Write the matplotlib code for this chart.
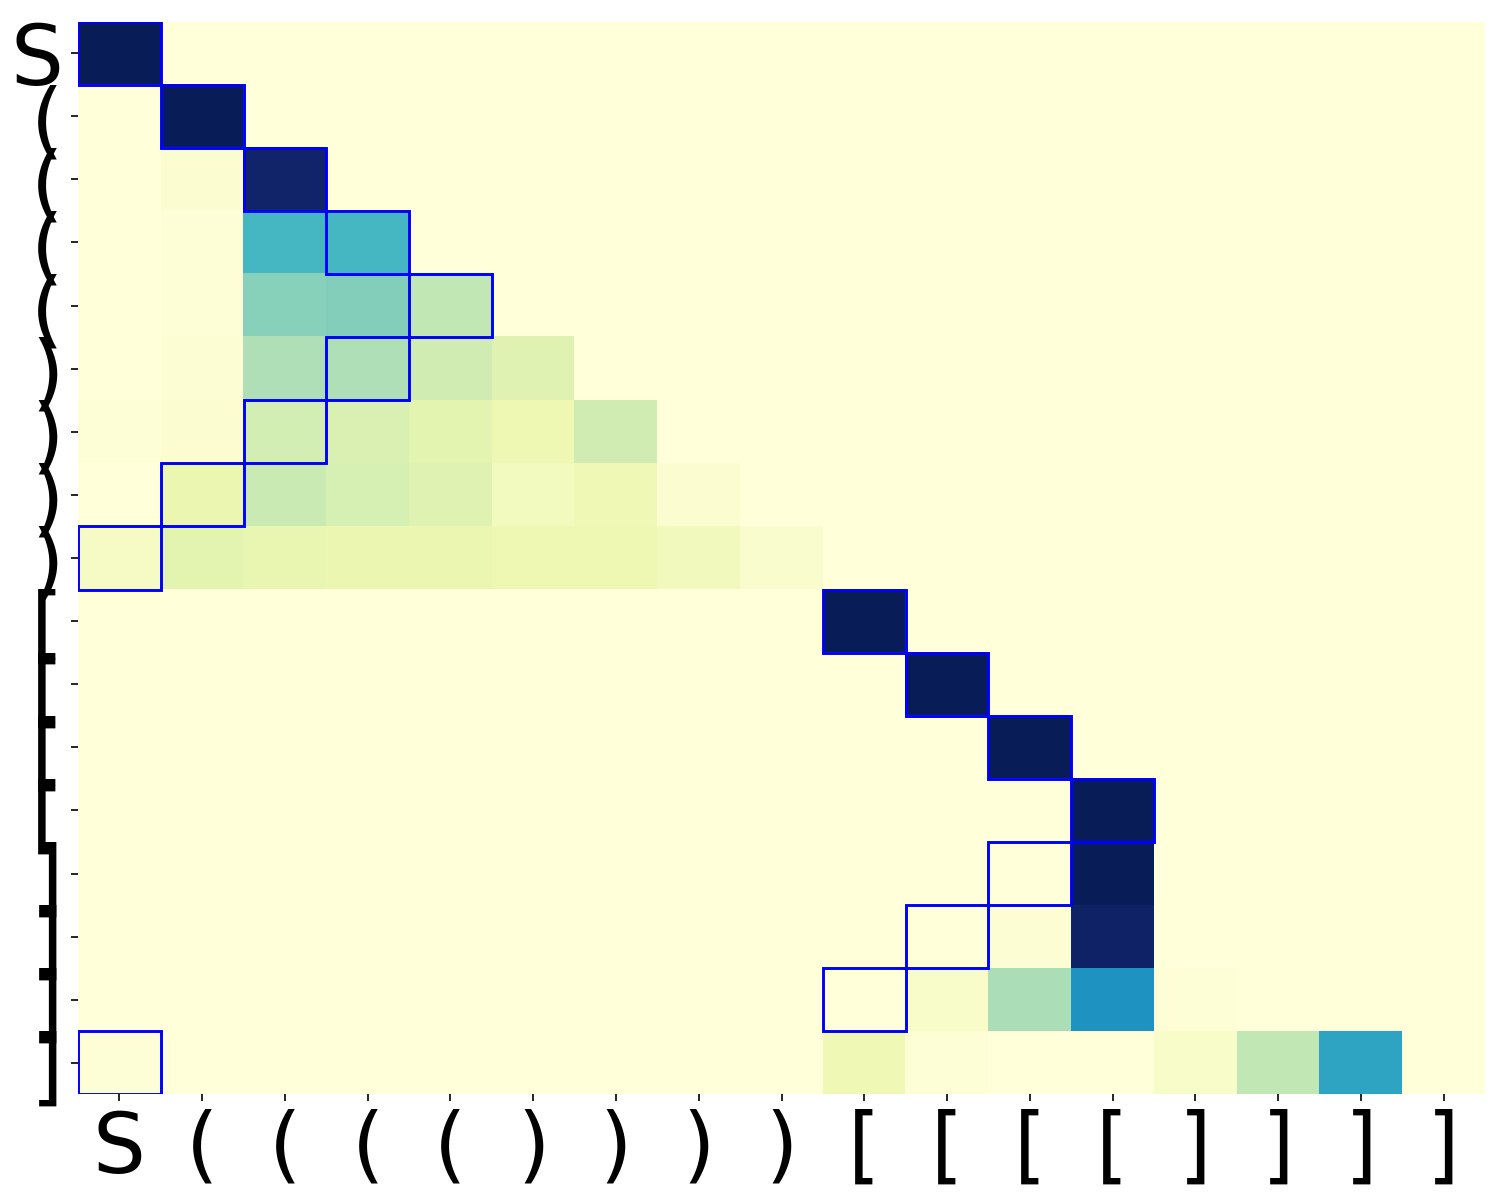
import numpy as np
import matplotlib
matplotlib.use("Agg")
import matplotlib.pyplot as plt
from matplotlib.patches import Rectangle

# tokens on both axes
tokens = ["S", "(", "(", "(", "(", ")", ")", ")", ")",
          "[", "[", "[", "[", "]", "]", "]", "]"]
n = len(tokens)

# attention weights: row -> {col: value}
row_weights = {
    0: {0: 1.0},
    1: {1: 1.0},
    2: {1: 0.03, 2: 0.96},
    3: {1: 0.01, 2: 0.49, 3: 0.49},
    4: {1: 0.01, 2: 0.36, 3: 0.37, 4: 0.26},
    5: {1: 0.02, 2: 0.29, 3: 0.29, 4: 0.22, 5: 0.17},
    6: {0: 0.01, 1: 0.03, 2: 0.21, 3: 0.19, 4: 0.16, 5: 0.12, 6: 0.22},
    7: {1: 0.13, 2: 0.24, 3: 0.20, 4: 0.17, 5: 0.08, 6: 0.11, 7: 0.03},
    8: {0: 0.06, 1: 0.16, 2: 0.14, 3: 0.13, 4: 0.13, 5: 0.12, 6: 0.12, 7: 0.09, 8: 0.04},
    9: {9: 1.0},
    10: {10: 1.0},
    11: {11: 1.0},
    12: {12: 1.0},
    13: {12: 1.0},
    14: {11: 0.02, 12: 0.97},
    15: {10: 0.05, 11: 0.30, 12: 0.62, 13: 0.01},
    16: {0: 0.01, 9: 0.11, 10: 0.01, 13: 0.05, 14: 0.26, 15: 0.56},
}

# highlighted cells (row, col) = matching bracket positions
highlight = [(0, 0), (1, 1), (2, 2), (3, 3), (4, 4), (5, 3), (6, 2), (7, 1),
             (8, 0), (9, 9), (10, 10), (11, 11), (12, 12), (13, 11), (14, 10),
             (15, 9), (16, 0)]

att = np.zeros((n, n))
for r, cols in row_weights.items():
    for c, v in cols.items():
        att[r, c] = v

fig = plt.figure(figsize=(10, 8), dpi=150)
ax = fig.add_axes([0.052, 0.088, 0.938, 0.894])
ax.imshow(att, cmap="YlGnBu", vmin=0, vmax=1, aspect="auto",
          interpolation="nearest", extent=(0, n, n, 0))

for r, c in highlight:
    ax.add_patch(Rectangle((c, r), 1, 1, fill=False, edgecolor="blue", lw=1.4))

ax.set_xticks(np.arange(n) + 0.5)
ax.set_yticks(np.arange(n) + 0.5)
ax.set_xticklabels(tokens, fontsize=40)
ax.set_yticklabels(tokens, fontsize=40)
ax.set_xlim(0, n)
ax.set_ylim(n, 0)
for s in ax.spines.values():
    s.set_visible(False)

fig.savefig("out.png", dpi=150)
